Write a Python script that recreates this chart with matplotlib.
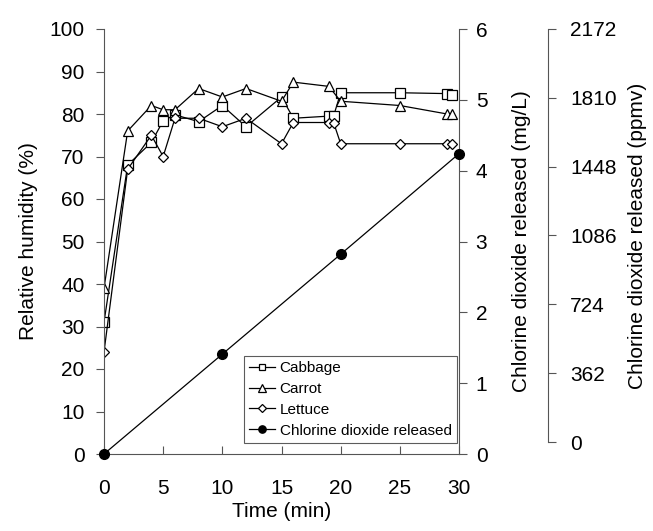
import matplotlib
matplotlib.use("Agg")
import matplotlib.pyplot as plt

plt.rcParams["font.family"] = ["Liberation Sans", "DejaVu Sans"]

# Relative humidity (%) over time (min)
t_cabbage = [0, 2, 4, 5, 6, 8, 10, 12, 15, 16, 19, 19.4, 20, 25, 29, 29.4]
rh_cabbage = [31, 68, 73.3, 78.4, 79.8, 78.2, 82, 77, 84, 79, 79.5, 79.5, 85, 85, 84.8, 84.5]

t_carrot = [0, 2, 4, 5, 6, 8, 10, 12, 15, 16, 19, 20, 25, 29, 29.4]
rh_carrot = [39, 76, 82, 81, 81, 86, 84, 86, 83, 87.5, 86.5, 83, 82, 80, 80]

t_lettuce = [0, 2, 4, 5, 6, 8, 10, 12, 15, 16, 19, 19.4, 20, 25, 29, 29.4]
rh_lettuce = [24, 67, 75, 70, 79, 79, 77, 79, 73, 78, 78, 78, 73, 73, 73, 73]

# Chlorine dioxide released (mg/L)
t_clo2 = [0, 10, 20, 30]
clo2 = [0, 1.41, 2.82, 4.24]

ppmv_ticks = [0, 362, 724, 1086, 1448, 1810, 2172]

FS = 15
W, H = 653, 531
fig = plt.figure(figsize=(W / 100, H / 100), dpi=100)
ax = fig.add_axes([104 / W, 1 - 454 / H, (459 - 104) / W, (454 - 29) / H])

mk = dict(color="black", lw=0.9, mfc="white", mec="black", mew=0.9)
ax.plot(t_cabbage, rh_cabbage, marker="s", ms=6.5, label="Cabbage", **mk)
ax.plot(t_carrot, rh_carrot, marker="^", ms=7, label="Carrot", **mk)
ax.plot(t_lettuce, rh_lettuce, marker="D", ms=5.5, label="Lettuce", **mk)

ax.set_xlim(0, 30)
ax.set_ylim(0, 100)
ax.set_xticks(range(0, 31, 5))
ax.set_yticks(range(0, 101, 10))
ax.spines["top"].set_visible(False)
ax.spines["right"].set_visible(False)
for s in ax.spines.values():
    s.set_color("#555555")
ax.tick_params(axis="x", direction="in", length=6, labelsize=FS, pad=18, color="#555555")
ax.tick_params(axis="y", direction="out", length=6, labelsize=FS, pad=8, color="#555555")
ax.set_xlabel("Time (min)", fontsize=FS, labelpad=3)
ax.set_ylabel("Relative humidity (%)", fontsize=FS, labelpad=8)

ax2 = ax.twinx()
ln, = ax2.plot(t_clo2, clo2, marker="o", ms=7, color="black", lw=0.9,
               mfc="black", mec="black", label="Chlorine dioxide released",
               clip_on=False, zorder=5)
ax2.set_ylim(0, 6)
ax2.set_yticks(range(0, 7))
ax2.spines["top"].set_visible(False)
ax2.spines["left"].set_visible(False)
ax2.spines["bottom"].set_visible(False)
ax2.spines["right"].set_color("#555555")
ax2.tick_params(axis="y", direction="out", length=6, labelsize=FS, pad=6, color="#555555")
ax2.set_ylabel("Chlorine dioxide released (mg/L)", fontsize=FS, labelpad=18)

# third axis in ppmv
ax3 = fig.add_axes([548 / W - 0.0001, 1 - 442 / H, 0.0001, (442 - 29) / H])
ax3.patch.set_visible(False)
for k in ["top", "left", "bottom"]:
    ax3.spines[k].set_visible(False)
ax3.spines["right"].set_color("#555555")
ax3.set_xticks([])
ax3.yaxis.set_ticks_position("right")
ax3.yaxis.set_label_position("right")
ax3.set_ylim(0, 2172)
ax3.set_yticks(ppmv_ticks)
ax3.tick_params(axis="y", direction="out", length=6, labelsize=FS, pad=10, color="#555555")
ax3.set_ylabel("Chlorine dioxide released (ppmv)", fontsize=FS, labelpad=8)

h1, l1 = ax.get_legend_handles_labels()
leg = ax2.legend(h1 + [ln], l1 + [ln.get_label()], loc="lower right",
                 bbox_to_anchor=((457 - 104) / (459 - 104), (454 - 443) / (454 - 29)),
                 fontsize=11, frameon=True, fancybox=False, edgecolor="#333333",
                 handlelength=1.7, handletextpad=0.3, borderpad=0.35,
                 labelspacing=0.45, borderaxespad=0, markerscale=0.75)
leg.get_frame().set_linewidth(0.8)

fig.savefig("out.png", dpi=100)
